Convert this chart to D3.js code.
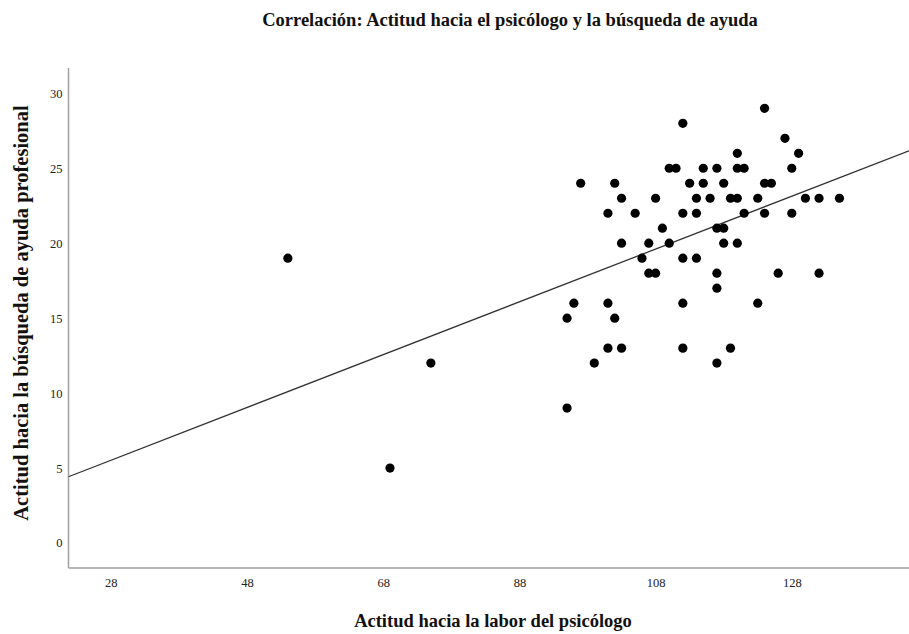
<!DOCTYPE html>
<html>
<head>
<meta charset="utf-8">
<script src="https://cdn.jsdelivr.net/npm/d3@7"></script>
<style>
  body { margin: 0; background: #fff; }
  svg { display: block; }
</style>
</head>
<body>
<svg id="chart" width="909" height="634"></svg>
<script>
// Data: [labor del psicólogo, búsqueda de ayuda]
const laborX = [124,112,127,120,129,110,111,115,117,120,121,128,97,102,113,115,118,124,125,
  103,108,114,116,119,120,123,130,132,135,101,105,112,114,121,124,128,109,117,118,
  103,107,110,118,120,54,106,112,114,107,108,117,126,132,117,96,101,112,123,95,102,
  101,103,112,119,75,99,117,95,69];
const ayudaY = [29,28,27,26,26,25,25,25,25,25,25,25,24,24,24,24,24,24,24,
  23,23,23,23,23,23,23,23,23,23,22,22,22,22,22,22,22,21,21,21,
  20,20,20,20,20,19,19,19,19,18,18,18,18,18,17,16,16,16,16,15,15,
  13,13,13,13,12,12,12,9,5];
const xTicks = [28,48,68,88,108,128];
const yTicks = [0,5,10,15,20,25,30];

const title = "Correlación: Actitud hacia el psicólogo y la búsqueda de ayuda";
const xLabel = "Actitud hacia la labor del psicólogo";
const yLabel = "Actitud hacia la búsqueda de ayuda profesional";

const svg = d3.select("#chart");
const pL = 68.5, pR = 909, pT = 68, pB = 568;
const serif = "Liberation Serif, Times New Roman, serif";

const x = d3.scaleLinear().domain([21.79, 145.21]).range([pL, pR]);
const y = d3.scaleLinear().domain([-1.67, 31.69]).range([pB, pT]);

const data = laborX.map((v, i) => ({x: v, y: ayudaY[i]}));

// OLS fit line
const mx = d3.mean(data, d => d.x), my = d3.mean(data, d => d.y);
const sxy = d3.sum(data, d => (d.x - mx) * (d.y - my));
const sxx = d3.sum(data, d => (d.x - mx) * (d.x - mx));
const slope = sxy / sxx, icpt = my - slope * mx;

svg.append("defs").append("clipPath").attr("id", "clip")
  .append("rect").attr("x", pL).attr("y", pT).attr("width", pR - pL).attr("height", pB - pT);

// Axes (no tick marks)
const xAxis = d3.axisBottom(x).tickValues(xTicks).tickSize(0).tickPadding(10);
const yAxis = d3.axisLeft(y).tickValues(yTicks).tickSize(0).tickPadding(6);

const gx = svg.append("g").attr("transform", `translate(0,${pB})`).call(xAxis);
const gy = svg.append("g").attr("transform", `translate(${pL},0)`).call(yAxis);
[gx, gy].forEach(g => {
  g.select(".domain").remove();
  g.selectAll("text").attr("font-family", serif)
    .attr("font-size", 12.5).attr("fill", "#222");
});

svg.append("line").attr("x1", pL).attr("x2", pL).attr("y1", pT).attr("y2", pB)
  .attr("stroke", "#a0a0a0").attr("stroke-width", 1.5);
svg.append("line").attr("x1", pL).attr("x2", pR).attr("y1", pB).attr("y2", pB)
  .attr("stroke", "#a0a0a0").attr("stroke-width", 1.5);

// Fit line
const xd = x.domain();
svg.append("line").attr("clip-path", "url(#clip)")
  .attr("x1", x(xd[0])).attr("y1", y(icpt + slope * xd[0]))
  .attr("x2", x(xd[1])).attr("y2", y(icpt + slope * xd[1]))
  .attr("stroke", "#333").attr("stroke-width", 1.3);

// Points
svg.append("g").selectAll("circle").data(data).join("circle")
  .attr("cx", d => x(d.x)).attr("cy", d => y(d.y)).attr("r", 4.6).attr("fill", "#000");

// Titles
svg.append("text").attr("x", 510).attr("y", 26).attr("text-anchor", "middle")
  .attr("font-family", serif).attr("font-size", 18.5)
  .attr("font-weight", "bold").attr("fill", "#111").text(title);

svg.append("text").attr("x", 493).attr("y", 627).attr("text-anchor", "middle")
  .attr("font-family", serif).attr("font-size", 18.5)
  .attr("font-weight", "bold").attr("fill", "#111").text(xLabel);

svg.append("text").attr("transform", "translate(28,313) rotate(-90)").attr("text-anchor", "middle")
  .attr("font-family", serif).attr("font-size", 20.5)
  .attr("font-weight", "bold").attr("fill", "#111").text(yLabel);
</script>
</body>
</html>
